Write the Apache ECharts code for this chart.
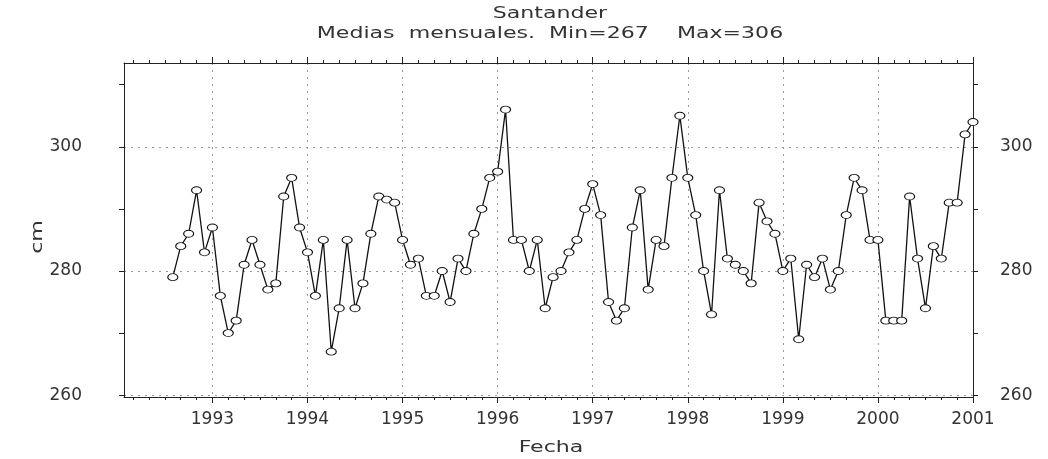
<!DOCTYPE html>
<html>
<head>
<meta charset="utf-8">
<script src="https://cdn.jsdelivr.net/npm/echarts@6/dist/echarts.min.js"></script>
<style>html,body{margin:0;padding:0;background:#fff}#c{width:1048px;height:459px}</style>
</head>
<body>
<div id="c"></div>
<script>
// Monthly mean sea level, Santander (cm). Series starts August 1992.
const startYear = 1992;
const startMonth = 8;
const v1992 = [279, 284, 286, 293, 283];
const v1993 = [287, 276, 270, 272, 281, 285, 281, 277, 278, 292, 295, 287];
const v1994 = [283, 276, 285, 267, 274, 285, 274, 278, 286, 292, 291.5, 291];
const v1995 = [285, 281, 282, 276, 276, 280, 275, 282, 280, 286, 290, 295];
const v1996 = [296, 306, 285, 285, 280, 285, 274, 279, 280, 283, 285, 290];
const v1997 = [294, 289, 275, 272, 274, 287, 293, 277, 285, 284, 295, 305];
const v1998 = [295, 289, 280, 273, 293, 282, 281, 280, 278, 291, 288, 286];
const v1999 = [280, 282, 269, 281, 279, 282, 277, 280, 289, 295, 293, 285];
const v2000 = [285, 272, 272, 272, 292, 282, 274, 284, 282, 291, 291, 302];
const v2001 = [304];
const yearTicks = [1993, 1994, 1995, 1996, 1997, 1998, 1999, 2000, 2001];
const yTickLabels = [260, 280, 300];
const yTicks = [260, 270, 280, 290, 300, 310];
const titleText = 'Santander';
const subtitleText = 'Medias  mensuales.  Min=267    Max=306';
const xName = 'Fecha';
const yName = 'cm';

const values = [].concat(v1992, v1993, v1994, v1995, v1996, v1997, v1998, v1999, v2000, v2001);
const data = values.map((v, i) => [startYear + (startMonth - 1 + i) / 12, v]);

const minorX = [];
for (let y = 1992; y <= 2001; y++) for (let m = 0; m < 12; m += 2) {
  const t = y + m / 12; if (t >= 1992.07 && t <= 2001.001) minorX.push(t);
}

const X_MIN = 1992.07, X_MAX = 2001, Y_MIN = 259.7, Y_MAX = 313.5;
const FONT = 'DejaVu Sans';
const txt = {color: '#333', fontFamily: FONT, fontSize: 17};
const lineStyle = {color: '#222', width: 1};
const gridDots = {color: '#999', type: [2, 5], width: 1};

function label(text, x, y, rot) {
  return {
    type: 'text', x: x, y: y, rotation: rot || 0, scaleX: 1.38, silent: true,
    style: {text: text, fill: '#333', font: '16px "' + FONT + '"', align: 'center', verticalAlign: 'middle'}
  };
}

const chart = echarts.init(document.getElementById('c'), null, {renderer: 'canvas'});
chart.setOption({
  animation: false,
  backgroundColor: '#fff',
  graphic: [
    label(titleText, 550, 14),
    label(subtitleText, 550, 34),
    label(xName, 551, 448),
    label(yName, 38, 237, Math.PI / 2)
  ],
  grid: {left: 124, right: 75, top: 63, bottom: 62, containLabel: false},
  xAxis: [
    {type: 'value', position: 'bottom', min: X_MIN, max: X_MAX,
     axisLine: {show: true, lineStyle: lineStyle},
     axisTick: {show: true, customValues: yearTicks, length: 6, inside: false, lineStyle: lineStyle},
     axisLabel: Object.assign({customValues: yearTicks, margin: 14, formatter: v => String(Math.round(v))}, txt),
     splitLine: {show: true, lineStyle: gridDots}},
    {type: 'value', position: 'bottom', min: X_MIN, max: X_MAX,
     axisLine: {show: false},
     axisTick: {show: true, customValues: minorX, length: 3, lineStyle: lineStyle},
     axisLabel: {show: false}, splitLine: {show: false}},
    {type: 'value', position: 'top', min: X_MIN, max: X_MAX,
     axisLine: {show: true, lineStyle: lineStyle},
     axisTick: {show: true, customValues: yearTicks, length: 6, lineStyle: lineStyle},
     axisLabel: {show: false}, splitLine: {show: false}},
    {type: 'value', position: 'top', min: X_MIN, max: X_MAX,
     axisLine: {show: false},
     axisTick: {show: true, customValues: minorX, length: 3, lineStyle: lineStyle},
     axisLabel: {show: false}, splitLine: {show: false}}
  ],
  yAxis: [
    {type: 'value', position: 'left', min: Y_MIN, max: Y_MAX,
     axisLine: {show: true, lineStyle: lineStyle},
     axisTick: {show: true, customValues: yTicks, length: 5, lineStyle: lineStyle},
     axisLabel: Object.assign({customValues: yTickLabels, margin: 42, align: 'right'}, txt),
     splitLine: {show: false}},
    {type: 'value', position: 'right', min: Y_MIN, max: Y_MAX,
     axisLine: {show: true, lineStyle: lineStyle},
     axisTick: {show: true, customValues: yTicks, length: 5, lineStyle: lineStyle},
     axisLabel: Object.assign({customValues: yTickLabels, margin: 27}, txt),
     splitLine: {show: false}},
    {type: 'value', position: 'left', min: Y_MIN, max: Y_MAX,
     axisLine: {show: false},
     axisTick: {show: false, customValues: yTickLabels},
     axisLabel: {show: false},
     splitLine: {show: true, lineStyle: gridDots}}
  ],
  series: [{
    type: 'line', xAxisIndex: 0, yAxisIndex: 0, data: data,
    showAllSymbol: true, symbol: 'circle', symbolSize: [10, 7],
    lineStyle: {color: '#111', width: 1.3},
    itemStyle: {color: '#fff', borderColor: '#111', borderWidth: 1},
    z: 5
  }]
});
</script>
</body>
</html>
